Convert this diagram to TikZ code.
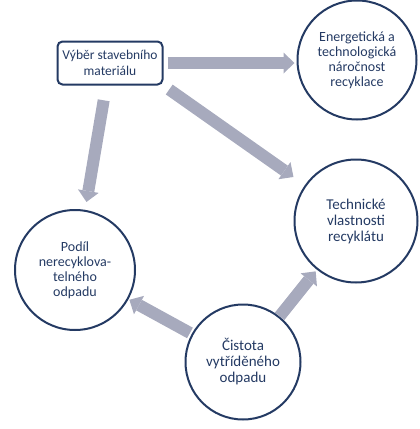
\documentclass[tikz,border=0pt]{standalone}
\usepackage{fontspec}
\setmainfont{Carlito}
\usetikzlibrary{arrows.meta}
\definecolor{navy}{HTML}{243A63}
\definecolor{flow}{HTML}{A7AABD}

\begin{document}
\begin{tikzpicture}[x=1pt, y=-1pt,
  font=\fontsize{14}{15}\selectfont, text=navy,
  box/.style={draw=navy, rounded corners=5pt, line width=2pt, align=center,
              minimum width=105pt, minimum height=43pt, inner sep=2pt,
              font=\fontsize{13.5}{16}\selectfont},
  topic/.style={circle, draw=navy, line width=2pt, align=center, inner sep=0pt},
  big/.style={font=\fontsize{15}{16}\selectfont},
  flowarrow/.style={draw=flow, line width=12pt,
                    -{Triangle[width=21pt, length=11pt, line width=0pt]}},
]
\useasboundingbox (0,0) rectangle (420,429);
% ---- start box ----
\node[box] (vyber) at (110,63) {Výběr stavebního\\materiálu};
% ---- circles ----
\node[topic, minimum size=119pt] (energ) at (357,60)
  {Energetická a\\technologická\\náročnost\\recyklace};
\node[topic, big, minimum size=123pt] (tech) at (356,221)
  {Technické\\vlastnosti\\recyklátu};
\node[topic, minimum size=120pt] (podil) at (75,270)
  {Podíl\\nerecyklova-\\telného\\odpadu};
\node[topic, big, minimum size=115pt] (cist) at (243,362)
  {Čistota\\vytříděného\\odpadu};
% ---- arrows ----
\draw[flowarrow, shorten <=4pt, shorten >=2pt] (vyber) -- (vyber -| energ.west);
\draw[flowarrow, shorten <=7pt, shorten >=14pt] (vyber.south east) -- (tech);
\draw[flowarrow, shorten <=15pt, shorten >=8pt] (vyber) -- (podil);
\draw[flowarrow, shorten <=2pt, shorten >=1pt] (cist) -- (podil);
\draw[flowarrow, shorten >=2pt] (cist) -- (tech);
\end{tikzpicture}
\end{document}
